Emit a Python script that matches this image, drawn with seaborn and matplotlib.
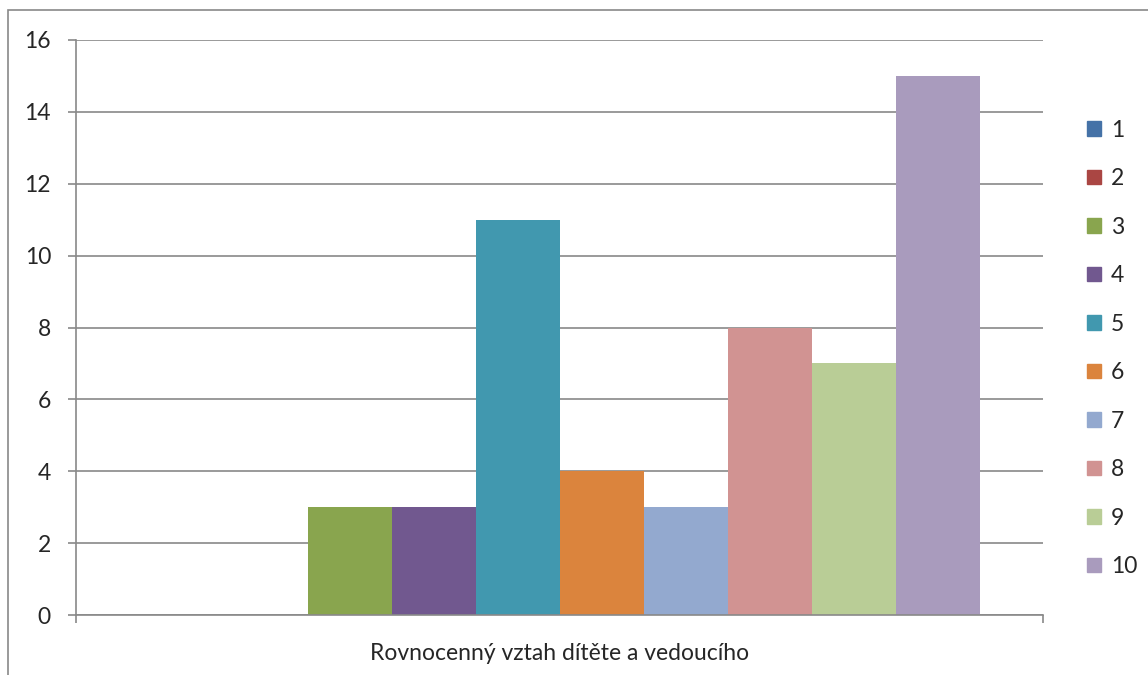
import seaborn as sns
import matplotlib.pyplot as plt
import matplotlib.patches as mpatches
import pandas as pd

category = "Rovnocenný vztah dítěte a vedoucího"
series = ["1", "2", "3", "4", "5", "6", "7", "8", "9", "10"]
values = [0, 0, 3, 3, 11, 4, 3, 8, 7, 15]
colors = ["#4572A7", "#AA4643", "#89A54E", "#71588F", "#4198AF",
          "#DB843D", "#93A9CF", "#D19392", "#B9CD96", "#A99BBD"]

df = pd.DataFrame({"cat": [category] * len(series), "series": series, "value": values})

sns.set_style("white")
plt.rcParams['font.family'] = ['Lato', 'DejaVu Sans']
grid_c = "#898989"
fs = 16.5

fig = plt.figure(figsize=(11.48, 6.75), dpi=100)
ax = fig.add_axes([76 / 1148, 1 - 615 / 675, (1043 - 76) / 1148, (615 - 40) / 675])

sns.barplot(data=df, x="cat", y="value", hue="series", palette=colors,
            width=840 / 967, saturation=1, linewidth=0, ax=ax, legend=True)

ax.set_xlim(-0.5, 0.5)
ax.set_ylim(0, 16)
ax.set_yticks(range(0, 17, 2))
ax.yaxis.grid(True, color=grid_c, linewidth=1.2)
ax.set_axisbelow(True)
for s in ["top", "right"]:
    ax.spines[s].set_visible(False)
for s in ["left", "bottom"]:
    ax.spines[s].set_color(grid_c)
    ax.spines[s].set_linewidth(1.2)

ax.tick_params(axis="y", length=6, width=1.2, color=grid_c, labelsize=fs, pad=12, left=True)
ax.tick_params(axis="x", which="major", length=0, labelsize=fs, pad=20)
ax.set_xticks([-0.5, 0.5], minor=True)
ax.tick_params(axis="x", which="minor", length=6, width=1.2, color=grid_c, bottom=True)
ax.set_xlabel("")
ax.set_ylabel("")

handles = [mpatches.Patch(color=c) for c in colors]
ax.legend(handles, series, loc="upper left", bbox_to_anchor=(1066 / 1148, 1 - 99 / 675),
          bbox_transform=fig.transFigure, frameon=False, fontsize=fs,
          handlelength=0.62, handleheight=0.62, handletextpad=0.45, labelspacing=1.2)

fig.patches.append(mpatches.Rectangle((8 / 1148, -0.05), 1.1, 1 - 10 / 675 + 0.05,
                                      transform=fig.transFigure, fill=False,
                                      edgecolor=grid_c, linewidth=1.2))

fig.savefig("out.png", dpi=100)
